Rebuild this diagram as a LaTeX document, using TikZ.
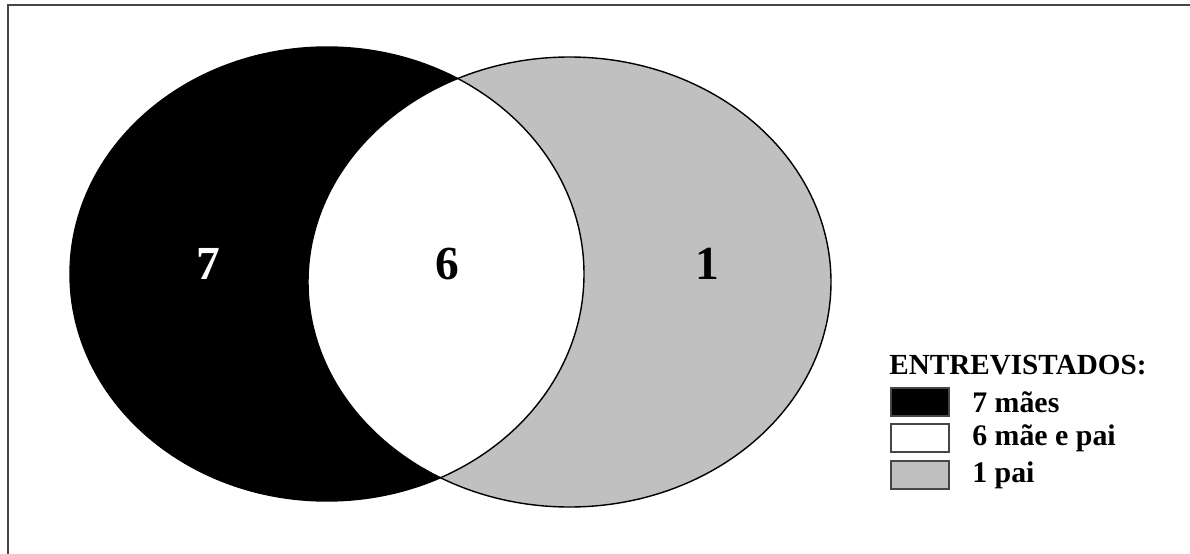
\documentclass[tikz,border=0pt]{standalone}
\usepackage{fontspec}
\setmainfont{Liberation Serif}
\usetikzlibrary{positioning}
\definecolor{venn@grey}{RGB}{192,192,192}
\definecolor{venn@frame}{RGB}{70,70,70}

\begin{document}
\begin{tikzpicture}[x=0.02cm,y=-0.02cm,
  number/.style={font=\bfseries\fontsize{27}{30}\selectfont},
  keybox/.style={draw=venn@frame,line width=1.1pt,minimum width=1.16cm,minimum height=0.56cm,inner sep=0pt},
  keytext/.style={font=\bfseries\fontsize{17}{20}\selectfont,anchor=west,inner sep=0pt},
]
\useasboundingbox (0,0) rectangle (1190,554);
\clip (0,0) rectangle (1190,554);

% frame
\draw[venn@frame, line width=1.1pt] (8,600) -- (8,5) -- (1250,5);

% sets
\fill[black] (327,274) ellipse [x radius=257, y radius=227];
\fill[venn@grey] (569.5,282) ellipse [x radius=261.5, y radius=225];
\begin{scope}
  \clip (327,274) ellipse [x radius=257, y radius=227];
  \fill[white] (569.5,282) ellipse [x radius=261.5, y radius=225];
\end{scope}
\draw[line width=0.8pt] (327,274) ellipse [x radius=257, y radius=227];
\draw[line width=0.8pt] (569.5,282) ellipse [x radius=261.5, y radius=225];

\node[number, white] (maes) at (208,264) {7};
\node[number] (ambos) at (447,264) {6};
\node[number] (pai) at (707,264) {1};

% legend
\node[font=\bfseries\fontsize{16.6}{19}\selectfont, anchor=base west, inner sep=0pt] (titulo) at (889,374) {ENTREVISTADOS:};
\node[keybox, fill=black, anchor=north west] (kmaes) at (890,387) {};
\node[keybox, fill=white, below=0.13cm of kmaes] (kambos) {};
\node[keybox, fill=venn@grey, below=0.13cm of kambos] (kpai) {};
\node[keytext, right=0.44cm of kmaes] (tmaes) {7 mães};
\node[keytext, right=0.44cm of kambos] (tambos) {6 mãe e pai};
\node[keytext, right=0.44cm of kpai] (tpai) {1 pai};

\end{tikzpicture}
\end{document}
